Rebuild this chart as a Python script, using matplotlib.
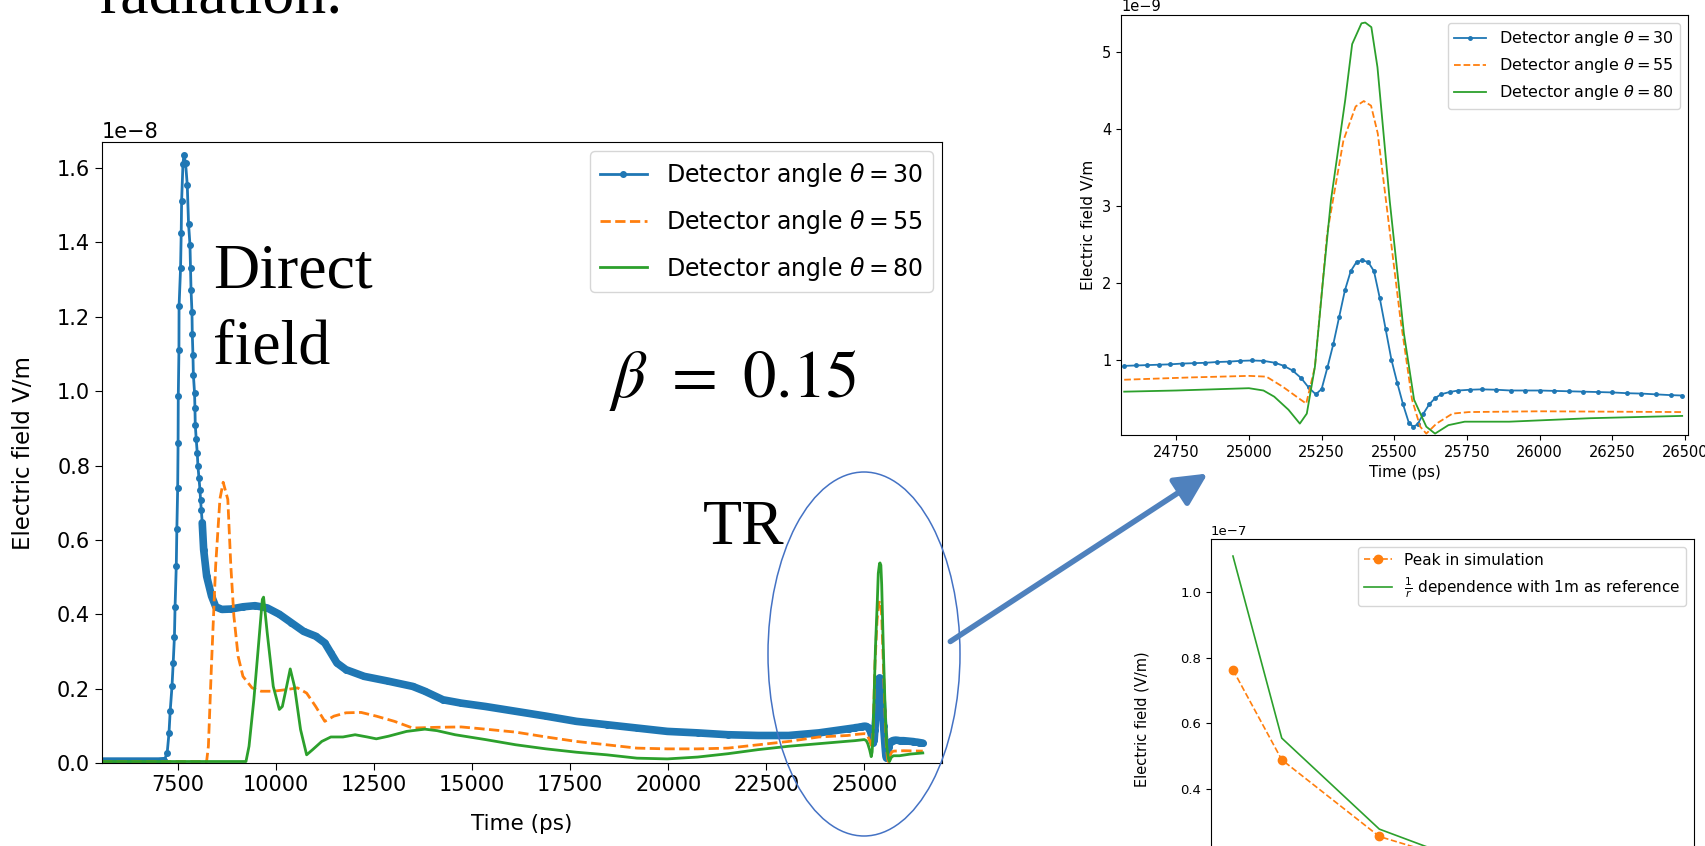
import matplotlib.pyplot as plt
import numpy as np
from matplotlib.patches import Ellipse, FancyArrowPatch

### Data Start ###
# main plot, values in units of 1e-8 V/m
main_t30 = [5560, 6000, 6500, 7000, 7144, 7222, 7268, 7299, 7345, 7376, 7407, 7423, 7454, 7469,
            7490, 7500, 7505, 7522, 7525, 7563, 7580, 7590, 7624, 7650,
            7691, 7734, 7767, 7803, 7818, 7830, 7854, 7862, 7879, 7890, 7920, 7930, 7938, 7963,
            7989, 8007, 8032, 8058, 8073, 8091, 8116, 8152, 8229, 8353, 8461, 8616, 8845, 9154,
            9463, 9773, 10082, 10391, 10700, 11009, 11241, 11396, 11550, 11782, 12246, 12864,
            13483, 13792, 14256, 14720, 15338, 16111, 16884, 17657, 18430, 19203, 19976, 20749,
            21522, 22295, 23068, 23841]
main_e30 = [0.005, 0.005, 0.005, 0.005, 0.006, 0.027, 0.08, 0.14, 0.206, 0.27, 0.34, 0.42, 0.53, 0.63,
            0.74, 0.86, 0.986, 1.11, 1.228, 1.33, 1.426, 1.51, 1.61, 1.636,
            1.613, 1.555, 1.45, 1.394, 1.33, 1.273, 1.213, 1.155, 1.098, 1.044, 0.995, 0.955, 0.91, 0.87,
            0.834, 0.798, 0.767, 0.735, 0.708, 0.681, 0.646, 0.574, 0.502, 0.449, 0.42, 0.413, 0.414, 0.42,
            0.423, 0.417, 0.40, 0.377, 0.354, 0.341, 0.323, 0.296, 0.269, 0.251, 0.233, 0.22,
            0.206, 0.193, 0.17, 0.161, 0.152, 0.139, 0.126, 0.112, 0.103, 0.094, 0.085, 0.081,
            0.076, 0.074, 0.074, 0.081]

main_t55 = [5560, 8227, 8273, 8350, 8458, 8567, 8650, 8768, 8845, 8923, 9031, 9154, 9386, 9618,
            9927, 10237, 10546, 10778, 11009, 11241, 11473, 11782, 12168, 12555, 13019, 13483,
            14102, 14720, 15338, 16111, 16884, 17657, 18430, 19203, 19976, 20749, 21522, 22295,
            23068, 23841]
main_e55 = [0.004, 0.004, 0.045, 0.26, 0.53, 0.71, 0.755, 0.709, 0.53, 0.395, 0.287, 0.233, 0.202, 0.193,
            0.193, 0.197, 0.202, 0.188, 0.152, 0.112, 0.126, 0.135, 0.136, 0.126, 0.112, 0.094,
            0.096, 0.097, 0.091, 0.083, 0.07, 0.058, 0.049, 0.04, 0.038, 0.038, 0.04, 0.049,
            0.058, 0.07]

main_t80 = [5560, 9231, 9309, 9432, 9541, 9649, 9680, 9773, 9927, 10082, 10159, 10268, 10360, 10468,
            10623, 10778, 10932, 11164, 11396, 11705, 12014, 12323, 12555, 12864, 13328, 13792,
            14102, 14565, 15338, 16111, 16884, 17657, 18430, 19203, 19976, 20749, 21522, 22295,
            23068, 23841]
main_e80 = [0.004, 0.004, 0.045, 0.17, 0.305, 0.44, 0.446, 0.35, 0.206, 0.144, 0.152, 0.206, 0.253, 0.206,
            0.09, 0.022, 0.036, 0.058, 0.07, 0.07, 0.076, 0.07, 0.065, 0.072, 0.085, 0.091,
            0.087, 0.076, 0.063, 0.049, 0.038, 0.029, 0.022, 0.013, 0.011, 0.016, 0.025, 0.036,
            0.045, 0.052]

# transition radiation window, values in units of 1e-9 V/m
tr_t30 = [24571, 24610, 24650, 24690, 24730, 24770, 24810, 24850, 24890, 24930, 24970, 25010, 25050,
          25090, 25120, 25150, 25180, 25205, 25230, 25250, 25270, 25290, 25310, 25330, 25350, 25370,
          25390, 25410, 25430, 25450, 25470, 25490, 25510, 25530, 25550, 25565, 25580, 25600, 25620,
          25640, 25660, 25690, 25720, 25760, 25800, 25850, 25900, 25950, 26000, 26050, 26100, 26150,
          26200, 26250, 26300, 26350, 26400, 26450, 26490]
tr_e30 = [0.92, 0.925, 0.93, 0.935, 0.94, 0.95, 0.955, 0.96, 0.97, 0.975, 0.985, 0.99, 0.985,
          0.96, 0.92, 0.86, 0.76, 0.64, 0.55, 0.62, 0.90, 1.20, 1.55, 1.90, 2.15, 2.27,
          2.29, 2.27, 2.15, 1.80, 1.40, 1.00, 0.70, 0.42, 0.18, 0.13, 0.16, 0.30, 0.42,
          0.50, 0.55, 0.58, 0.60, 0.61, 0.615, 0.61, 0.60, 0.60, 0.60, 0.595, 0.59, 0.585,
          0.58, 0.575, 0.565, 0.56, 0.55, 0.54, 0.535]

tr_t55 = [24571, 24800, 25000, 25060, 25116, 25171, 25197, 25227, 25269, 25325, 25367, 25395, 25420,
          25443, 25478, 25520, 25561, 25589, 25610, 25645, 25700, 25756, 26000, 26490]
tr_e55 = [0.74, 0.77, 0.79, 0.78, 0.65, 0.50, 0.43, 0.91, 2.64, 3.85, 4.29, 4.36, 4.30,
          3.94, 2.86, 1.56, 0.48, 0.13, 0.04, 0.17, 0.30, 0.32, 0.33, 0.32]

tr_t80 = [24571, 24750, 25000, 25050, 25087, 25136, 25175, 25199, 25227, 25254, 25282, 25331, 25355,
          25387, 25400, 25421, 25442, 25484, 25533, 25568, 25610, 25640, 25686, 25742, 25895,
          26173, 26490]
tr_e80 = [0.585, 0.60, 0.63, 0.60, 0.52, 0.35, 0.17, 0.30, 0.91, 2.00, 3.07, 4.37, 5.10,
          5.37, 5.38, 5.32, 4.80, 3.07, 1.34, 0.48, 0.13, 0.04, 0.15, 0.195, 0.195,
          0.24, 0.27]

# peak field against distance, values in units of 1e-7 V/m
dist = [1, 2, 4, 5]
peak_sim = [0.763, 0.489, 0.255, 0.21]
peak_inv_r = [1.11, 0.555, 0.2775, 0.222]

labels = [r'Detector angle $\theta = 30$', r'Detector angle $\theta = 55$', r'Detector angle $\theta = 80$']
### Data End ###

W, H = 1705, 846
fig = plt.figure(figsize=(W / 100, H / 100), dpi=100)
fig.patch.set_facecolor('white')

def px_axes(left, top, right, bottom):
    return fig.add_axes([left / W, 1 - bottom / H, (right - left) / W, (bottom - top) / H])

blue, orange, green = 'tab:blue', 'tab:orange', 'tab:green'

### Main plot ###
# join the coarse trace with the TR window (1e-9 -> 1e-8)
t30 = np.array(main_t30 + tr_t30)
e30 = np.array(main_e30 + [v / 10 for v in tr_e30]) * 1e-8
t55 = np.array(main_t55 + tr_t55)
e55 = np.array(main_e55 + [v / 10 for v in tr_e55]) * 1e-8
t80 = np.array(main_t80 + tr_t80)
e80 = np.array(main_e80 + [v / 10 for v in tr_e80]) * 1e-8

ax = px_axes(102, 142, 942, 763)
fs = 15
ax.plot(t30, e30, '.-', color=blue, lw=2, ms=8, label=labels[0])
band = (t30 < 7150) | (t30 > 8100)  # markers overlap into a thick band there
ax.plot(np.where(band, t30, np.nan), e30, '-', color=blue, lw=5.5, solid_capstyle='round')
ax.plot(t55, e55, '--', color=orange, lw=2, label=labels[1])
ax.plot(t80, e80, '-', color=green, lw=2, label=labels[2])
ax.set_xlim(5560, 26980)
ax.set_ylim(0, 1.67e-8)
ax.set_xticks(np.arange(7500, 25001, 2500))
ax.set_yticks(np.arange(0, 1.61e-8, 0.2e-8))
ax.set_xlabel('Time (ps)', fontsize=15.5, labelpad=14)
ax.set_ylabel('Electric field V/m', fontsize=16.5, labelpad=16)
ax.tick_params(labelsize=fs, length=5)
ax.yaxis.get_offset_text().set_fontsize(fs)
ax.legend(loc='upper right', fontsize=17, labelspacing=0.8, borderaxespad=0.4)

### Zoom on TR ###
ax2 = px_axes(1121, 15, 1688, 435)
fs2 = 10.5
ax2.plot(tr_t30, np.array(tr_e30) * 1e-9, '.-', color=blue, lw=1.3, ms=5, label=labels[0])
ax2.plot(tr_t55, np.array(tr_e55) * 1e-9, '--', color=orange, lw=1.3, label=labels[1])
ax2.plot(tr_t80, np.array(tr_e80) * 1e-9, '-', color=green, lw=1.3, label=labels[2])
ax2.set_xlim(24560, 26510)
ax2.set_ylim(0.022e-9, 5.478e-9)
ax2.set_xticks(np.arange(24750, 26501, 250))
ax2.set_xlabel('Time (ps)', fontsize=11)
ax2.set_ylabel('Electric field V/m', fontsize=11)
ax2.tick_params(labelsize=fs2)
ax2.yaxis.get_offset_text().set_fontsize(fs2)
ax2.legend(loc='upper right', fontsize=11.5)

### Peak vs distance ###
ax3 = px_axes(1211, 539, 1694, 900)
fs3 = 9.5
ax3.plot(dist, np.array(peak_sim) * 1e-7, 'o--', color=orange, lw=1.2, label='Peak in simulation')
ax3.plot(dist, np.array(peak_inv_r) * 1e-7, '-', color=green, lw=1.2,
         label=r'$\frac{1}{r}$ dependence with 1m as reference')
ax3.set_xlim(0.55, 10.45)
ax3.set_ylim(0.0614e-7, 1.162e-7)
ax3.set_yticks([0.4e-7, 0.6e-7, 0.8e-7, 1.0e-7])
ax3.set_ylabel('Electric field (V/m)', fontsize=10.5, labelpad=22)
ax3.tick_params(labelsize=fs3, labelbottom=False)
ax3.yaxis.get_offset_text().set_fontsize(fs3)
ax3.legend(loc='upper right', fontsize=11, handlelength=1.8)

### Slide overlay (pixel coordinates) ###
ov = fig.add_axes([0, 0, 1, 1], zorder=10)
ov.set_xlim(0, W)
ov.set_ylim(H, 0)
ov.axis('off')
ov.patch.set_alpha(0)

serif = dict(family='Liberation Serif', fontsize=46, color='black', va='baseline')
ov.text(100, 13, 'radiation.', **serif)
ov.text(213, 287, 'Direct', **serif)
ov.text(213, 363, 'field', **serif)
ov.text(703, 544, 'TR', **serif)
ov.text(609, 397, r'$\beta\ =\ 0.15$', math_fontfamily='stix', family='Liberation Serif',
        fontsize=48, color='black', va='baseline')

ov.add_patch(Ellipse((864, 654), 192, 364, fill=False, edgecolor='#4472C4', lw=1.1))
ov.add_patch(FancyArrowPatch((948, 643), (1210, 472), arrowstyle='-|>,head_length=0.7,head_width=0.35',
                             mutation_scale=28, lw=4, color='#4F81BD'))

plt.savefig('out.png', dpi=100)
